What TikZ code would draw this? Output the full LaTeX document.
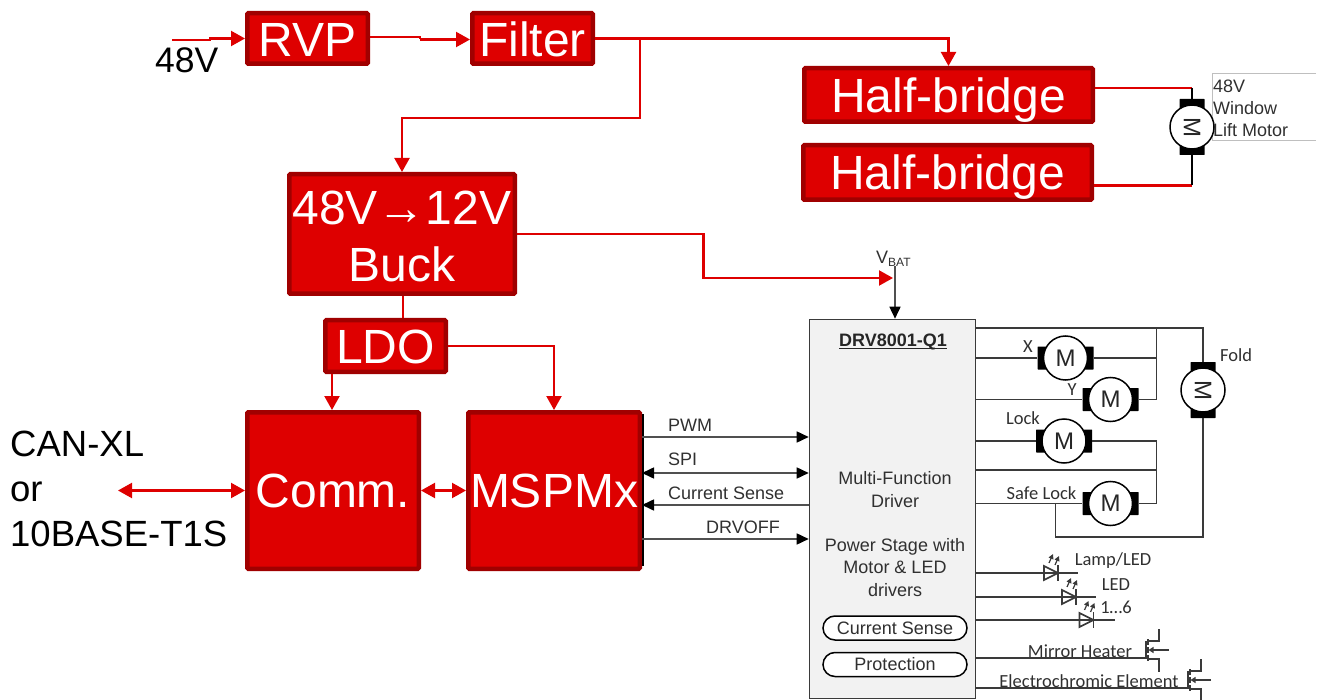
\documentclass[tikz,border=0pt]{standalone}
\usepackage{fontspec}
\setmainfont{Liberation Sans}
\newfontfamily\calib{Carlito}
\usetikzlibrary{arrows.meta,calc}
\definecolor{tired}{HTML}{DE0000}
\definecolor{tidark}{HTML}{A00000}
\definecolor{wire}{HTML}{3A3A3A}
\definecolor{sigwire}{HTML}{505050}
\definecolor{gtxt}{HTML}{303030}
\newcommand{\fsz}[1]{\fontsize{#1}{#1}\selectfont}
\tikzset{
  x=1pt,y=-1pt,
  redbox/.style={draw=tidark,fill=tired,line width=4.5pt,rounded corners=1pt,inner sep=0pt,text=white,
    text height=34pt,text depth=0pt,font=\fsz{48}},
  redline/.style={draw=tired,line width=2.2pt},
  redarrow/.style={redline,-{Triangle[length=14pt,width=15pt]}},
  redboth/.style={redline,{Triangle[length=14pt,width=15pt]}-{Triangle[length=14pt,width=15pt]}},
  blk/.style={draw=wire,line width=1.6pt},
  sigline/.style={draw=sigwire,line width=1.6pt},
  blkarrow/.style={sigline,-{Triangle[length=12pt,width=11pt,color=black]}},
  blkboth/.style={sigline,{Triangle[length=12pt,width=11pt,color=black]}-{Triangle[length=12pt,width=11pt,color=black]}},
  biglab/.style={font=\fsz{36.5},text=black,inner sep=0pt,anchor=base west},
  sig/.style={font=\fsz{18},text=gtxt,inner sep=0pt,anchor=base west},
  drvtxt/.style={font=\fsz{18},text=gtxt,inner sep=0pt,anchor=base},
  cal/.style={font=\calib\fsz{18.5},text=gtxt,inner sep=0pt},
  motor/.style={circle,draw=black,line width=1.5pt,fill=white,minimum size=44pt,inner sep=0pt,font=\fsz{24},text=black!85},
  brush/.style={fill=black,draw=none,inner sep=0pt,rounded corners=0.5pt},
  pill/.style={rounded corners=12pt,draw=black,fill=white,line width=1.5pt,minimum width=144pt,minimum height=24pt,inner sep=0pt,font=\fsz{18},text=gtxt},
}
% horizontal motor: name, x, y
\newcommand{\hmot}[3]{%
  \node[brush,minimum width=10pt,minimum height=23pt] (#1l) at (#2-23,#3) {};
  \node[brush,minimum width=10pt,minimum height=23pt] (#1r) at (#2+23,#3) {};
  \node[motor] (#1) at (#2,#3) {M};
}
% vertical motor: name, x, y
\newcommand{\vmot}[3]{%
  \node[brush,minimum width=25pt,minimum height=10pt] (#1t) at (#2,#3-23) {};
  \node[brush,minimum width=25pt,minimum height=10pt] (#1b) at (#2,#3+23) {};
  \node[motor] (#1) at (#2,#3) {\rotatebox{-90}{M}};
}
% LED: name, x of cathode bar, y of wire
\newcommand{\ledsym}[3]{%
  \coordinate (#1) at (#2,#3);
  \draw[wire,line width=1.6pt,line join=miter] (#2,#3) -- (#2-14,#3-7) -- (#2-14,#3+7) -- cycle;
  \draw[wire,line width=1.6pt] (#2,#3-8) -- (#2,#3+8);
  \draw[wire,line width=1.2pt,-{Triangle[length=5pt,width=5pt]}] (#2-9,#3-10) -- (#2-5,#3-19);
  \draw[wire,line width=1.2pt,-{Triangle[length=5pt,width=5pt]}] (#2-3,#3-8) -- (#2+1,#3-17);
}
% MOSFET: name, x of gate bar, y of channel centre
\newcommand{\fet}[3]{%
  \coordinate (#1) at (#2,#3+8);
  \draw[wire,line width=1.5pt] (#2,#3-9) -- (#2,#3+9);
  \draw[wire,line width=1.5pt] (#2+2,#3-11) -- (#2+2,#3-5);
  \draw[wire,line width=1.5pt] (#2+2,#3-3) -- (#2+2,#3+3);
  \draw[wire,line width=1.5pt] (#2+2,#3+5) -- (#2+2,#3+11);
  \draw[wire,line width=1.5pt] (#2+2,#3-9) -- (#2+13,#3-9) -- (#2+13,#3-21);
  \draw[wire,line width=1.5pt] (#2+2,#3+9) -- (#2+13,#3+9) -- (#2+13,#3+22);
  \draw[wire,line width=1.2pt,-{Triangle[length=5pt,width=6pt]}] (#2+23,#3) -- (#2+2.5,#3);
}
\begin{document}
\begin{tikzpicture}
\useasboundingbox (0,0) rectangle (1319,700);

% ---- red blocks
\node[redbox,text height=36pt,minimum width=120.5pt,minimum height=50.5pt] (rvp) at (307.5,38.5) {RVP};
\node[redbox,text height=36pt,minimum width=120.5pt,minimum height=50.5pt] (filter) at (532.5,38.5) {Filter};
\node[redbox,text height=35pt,minimum width=288.5pt,minimum height=53.5pt] (hb1) at (948.5,95) {Half-bridge};
\node[redbox,text height=35pt,minimum width=288.5pt,minimum height=54.5pt] (hb2) at (947.5,172.5) {Half-bridge};
\node[redbox,minimum width=225.5pt,minimum height=119.5pt] (buck) at (402,234) {};
\node[inner sep=0pt,align=center,text=white,font=\fontsize{48}{57}\selectfont] (bucktxt) at (402,236) {48V→12V\\Buck};
\node[redbox,minimum width=120.5pt,minimum height=51.5pt] (ldo) at (385.5,346) {LDO};
\node[redbox,text height=33pt,minimum width=171.5pt,minimum height=156.5pt] (comm) at (333,490.5) {Comm.};
\node[redbox,text height=33pt,minimum width=171.5pt,minimum height=156.5pt] (msp) at (554,490.5) {MSPMx};
\draw[black,line width=1.5pt] (643,414) -- (643,566);

% ---- driver block
\node[draw=wire,fill=black!5,line width=1.6pt,minimum width=166pt,minimum height=379pt,inner sep=0pt] (drv) at (892.5,509) {};
\node[font=\bfseries\fsz{18},text=black!85,inner sep=0pt,anchor=base] (drvname) at (893,347) {\underline{\smash{DRV8001-Q1}}};
\node[drvtxt] (mf1) at (895,484) {Multi-Function};
\node[drvtxt] (mf2) at (895,507) {Driver};
\node[drvtxt] (ps1) at (895,551) {Power Stage with};
\node[drvtxt] (ps2) at (895,573) {Motor \& LED};
\node[drvtxt] (ps3) at (895,596) {drivers};
\node[pill] (cs) at (895,628) {Current Sense};
\node[pill] (prot) at (895,664.5) {Protection};

% ---- free text
\node[biglab,font=\fsz{35.5}] (in48) at (155,73) {48V};
\node[biglab] (can) at (10,456) {CAN-XL};
\node[biglab] (or) at (10,501) {or};
\node[biglab] (tos) at (10,546) {10BASE-T1S};
\node[font=\fsz{18},text=gtxt,inner sep=0pt,anchor=base west] (vbat) at (876,264) {V\raisebox{-2.5pt}{\fsz{12}BAT}};

% ---- red connectors
\coordinate (c48) at (172,40);
\coordinate (c48j) at (210,40);
\draw[redarrow] (c48) -- (c48j) -- (c48j |- rvp.west) -- (rvp.west);
\coordinate (rf1) at (420,37);
\coordinate (rf2) at (420,39.5);
\draw[redline] (rvp.east |- rf1) -- (rf1) -- (rf2);
\draw[redarrow] (rf2) -- (filter.west |- rf2);
\draw[redarrow] (filter.east) -| (hb1.north);
\coordinate (fb1) at (640,38.5);
\coordinate (fb2) at (640,118);
\draw[redarrow] (fb1) -- (fb2) -| (buck.north);
\coordinate (vb1) at (703.5,278);
\coordinate (vbtip) at (893,278);
\draw[redarrow] (buck.east) -| (vb1) -- (vbtip);
\draw[redline] (buck.south -| 403,0) -- (ldo.north -| 403,0);
\draw[redarrow] (ldo.south -| 332,0) -- (comm.north -| 332,0);
\draw[redarrow] (ldo.east) -| (msp.north);
\draw[redboth] (comm.east) -- (msp.west);
\coordinate (canend) at (118,490.5);
\draw[redboth] (canend) -- (comm.west);

% ---- half-bridges to window motor
\node[inner sep=0pt,align=left,anchor=north west,font=\fontsize{18}{22}\selectfont,text=gtxt] (wtxt) at (1213,80) {48V\\Window\\Lift Motor};
\draw[black!25,line width=1pt] (1316,74) -- (1212,74) -- (1212,141) -- (1316,141);
\vmot{wm}{1192}{127}
\coordinate (wm1) at (1192,88);
\coordinate (wm2) at (1192,185.5);
\draw[redline] (hb1.east |- wm1) -- (wm1);
\draw[redline] (hb2.east |- wm2) -- (wm2);
\draw[black,line width=1.6pt] (wm1) -- (wmt.north);
\draw[black,line width=1.6pt] (wm2) -- (wmb.south);

% ---- signals
\coordinate (vtop) at (895,266);
\draw[blkarrow] (vtop) -- (vtop |- drv.north);
\draw[blkarrow] (msp.east |- 0,437) -- (drv.west |- 0,437);
\draw[blkboth] (msp.east |- 0,473) -- (drv.west |- 0,473);
\draw[blkarrow] (drv.west |- 0,505) -- (msp.east |- 0,505);
\draw[blkarrow] (msp.east |- 0,539) -- (drv.west |- 0,539);
\node[sig] (lpwm) at (668,431) {PWM};
\node[sig] (lspi) at (668,465) {SPI};
\node[sig] (lcur) at (668,499) {Current Sense};
\node[sig] (loff) at (706,533) {DRVOFF};

% ---- motors
\hmot{mx}{1065.5}{358}
\hmot{my}{1110.5}{399.5}
\hmot{ml}{1064}{441}
\hmot{ms}{1110.5}{503.5}
\vmot{mf}{1203}{390}
\coordinate (bus1) at (1156.5,328);
\coordinate (bus2) at (1156.5,399.5);
\coordinate (bus3) at (1156.5,441);
\coordinate (bus4) at (1156.5,503.5);
\coordinate (bus5) at (1156.5,470);
\coordinate (sl1) at (1055.5,503.5);
\coordinate (sl2) at (1055.5,537);
\draw[blk] (drv.east |- bus1) -- (bus1) -- (bus1 -| mft.north) -- (mft.north);
\draw[blk] (bus1) -- (bus2) -- (myr.east);
\draw[blk] (drv.east |- mxl.west) -- (mxl.west);
\draw[blk] (mxr.east) -- (bus1 |- mxr.east);
\draw[blk] (drv.east |- myl.west) -- (myl.west);
\draw[blk] (drv.east |- mll.west) -- (mll.west);
\draw[blk] (mlr.east) -- (bus3) -- (bus4) -- (msr.east);
\draw[blk] (drv.east |- bus5) -- (bus5);
\draw[blk] (drv.east |- msl.west) -- (msl.west);
\draw[blk] (sl1) -- (sl2) -| (mfb.south);
\node[cal] (lx) at (1028,347) {X};
\node[cal] (ly) at (1072,390) {Y};
\node[cal] (llock) at (1023,418) {Lock};
\node[cal] (lsafe) at (1041.5,493) {Safe Lock};
\node[cal,anchor=west] (lfold) at (1220,355) {Fold};

% ---- LEDs
\ledsym{d1}{1058}{573}
\ledsym{d2}{1076}{597}
\ledsym{d3}{1093.5}{620}
\coordinate (d1e) at (1078,573);
\coordinate (d2e) at (1096,597);
\coordinate (d3e) at (1115,620);
\draw[blk] (drv.east |- d1) -- (d1e);
\draw[blk] (drv.east |- d2) -- (d2e);
\draw[blk] (drv.east |- d3) -- (d3e);
\node[cal] (llamp) at (1113,561) {Lamp/LED};
\node[cal] (lled) at (1116,585) {LED};
\node[cal] (l16) at (1116,607) {1…6};

% ---- MOSFETs
\fet{q1}{1146}{650}
\fet{q2}{1188}{680}
\draw[blk] (drv.east |- q1) -- (q1);
\draw[blk] (drv.east |- q2) -- (q2);
\node[cal] (lmh) at (1080,651) {Mirror Heater};
\node[cal] (lec) at (1089,681) {Electrochromic Element};
\end{tikzpicture}
\end{document}
